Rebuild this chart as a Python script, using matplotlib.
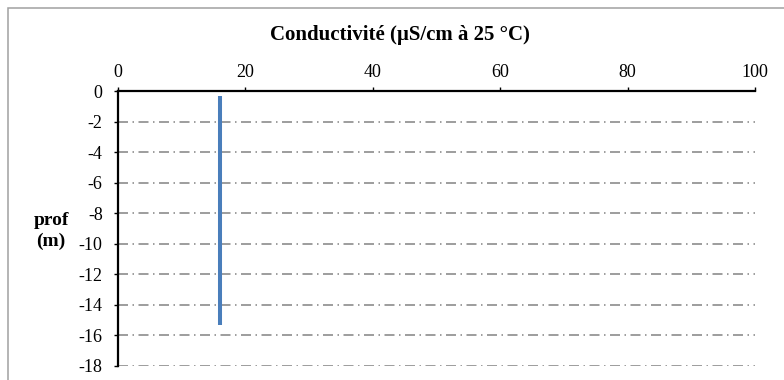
import matplotlib
matplotlib.use("Agg")
import matplotlib.pyplot as plt
from matplotlib.patches import Rectangle

plt.rcParams['font.family'] = ['Liberation Serif', 'DejaVu Serif']

# data
depth = [-0.3, -2, -4, -6, -8, -10, -12, -14, -15.3]
conductivity = [16, 16, 16, 16, 16, 16, 16, 16, 16]
x_ticks = [0, 20, 40, 60, 80, 100]
y_ticks = [0, -2, -4, -6, -8, -10, -12, -14, -16, -18]
title = "Conductivité (µS/cm à 25 °C)"
ylabel = "prof\n(m)"

fig = plt.figure(figsize=(7.84, 3.8), dpi=100)
ax = fig.add_axes([118/784, 1-366/380, (755-118)/784, (366-91)/380])

fig.patches.append(Rectangle((7.5/784, -0.2), 1.0, 1.2-7.5/380, transform=fig.transFigure,
                             fill=False, edgecolor='#a0a0a0', linewidth=1.1))

for y in y_ticks[1:]:
    ax.axhline(y, color='#8c8c8c', linewidth=1.2, dashes=(6, 2.7, 0.9, 2.7), zorder=1)

ax.plot(conductivity, depth, color='#4a7ebb', linewidth=2.9, solid_capstyle='butt', zorder=3)

ax.set_xlim(0, 100)
ax.set_ylim(-18, 0)
ax.set_xticks(x_ticks)
ax.set_yticks(y_ticks)
ax.xaxis.tick_top()
ax.tick_params(axis='x', direction='out', length=3, width=1, pad=4, labelsize=13, color='black')
ax.tick_params(axis='y', direction='out', length=3, width=1, pad=8, labelsize=13, color='black')
ax.set_yticklabels([str(v) for v in y_ticks])

for s in ['right', 'bottom']:
    ax.spines[s].set_visible(False)
for s in ['left', 'top']:
    ax.spines[s].set_linewidth(1.6)
    ax.spines[s].set_color('black')

fig.text(400/784, 1-35/380, title, ha='center', va='center', fontsize=15, fontweight='bold')
fig.text(51/784, 1-231/380, ylabel, ha='center', va='center', fontsize=14, fontweight='bold',
         linespacing=1.3)

fig.savefig("out.png", dpi=100)
